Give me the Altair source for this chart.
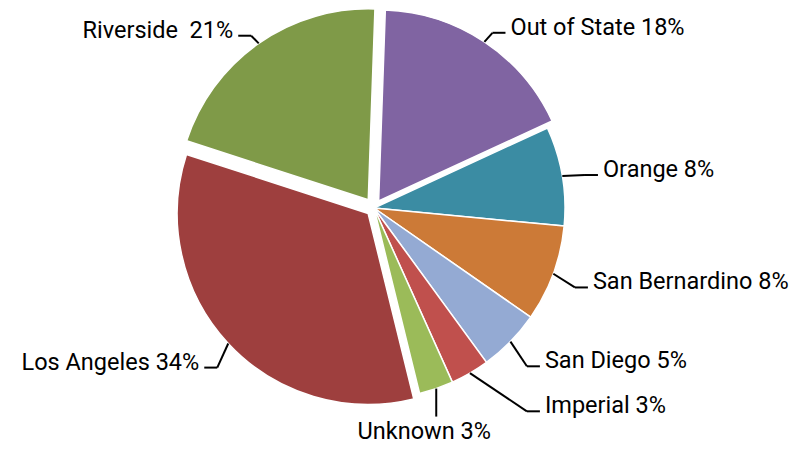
import math
import altair as alt
import pandas as pd

# ---- data ----
regions = ["Out of State", "Orange", "San Bernardino", "San Diego",
           "Imperial", "Unknown", "Los Angeles", "Riverside"]
shares = [17.6, 8.4, 8.2, 5.3, 3.3, 2.9, 33.9, 20.6]
labels = ["Out of State 18%", "Orange 8%", "San Bernardino 8%", "San Diego 5%",
          "Imperial 3%", "Unknown 3%", "Los Angeles 34%", "Riverside\u00a0 21%"]
colors = ["#8064A2", "#3B8CA3", "#CC7A37", "#94AAD3",
          "#C0504D", "#9BBB59", "#9E3F3E", "#7F9A48"]
explode = [8.4, 0, 0, 0, 0, 0, 8, 10]   # px, slice pull-out (style)

# ---- layout parameters ----
W, H = 788, 438
CX, CY = 366, 200
R = 191
ROT = math.radians(2)
ELBOW_RX, ELBOW_RY, ELBOW_DY = 214, 222, 3
TAIL = 13
GAP = 5
MIN_GAP = 45
BOTTOM_ZONE = math.radians(25)
FONT_SIZE = 23.5

total = sum(shares)
rows = []
cum = 0.0
for i, (name, s) in enumerate(zip(regions, shares)):
    a0 = ROT + cum / total * 2 * math.pi
    cum += s
    a1 = ROT + cum / total * 2 * math.pi
    mid = (a0 + a1) / 2
    sn, cs = math.sin(mid), -math.cos(mid)
    ox, oy = explode[i] * sn, explode[i] * cs
    ex, ey = CX + ox + R * sn, CY + oy + R * cs
    if abs(mid - math.pi) < BOTTOM_ZONE:
        side = "B"
        bx, by = ex, ey + 28
    else:
        side = "R" if sn > 0 else "L"
        bx = CX + ELBOW_RX * sn
        if cs > 0:
            by = CY + ELBOW_DY + oy + ELBOW_RY * cs
        else:
            by = CY + ELBOW_DY + ELBOW_RX * cs
    rows.append(dict(idx=i, region=name, share=s, label=labels[i], side=side,
                     ax=CX + ox, ay=CY + oy, ex=ex, ey=ey, bx=bx, by=by))

# simple collision avoidance per side
for sd in ("R", "L"):
    grp = sorted([r for r in rows if r["side"] == sd], key=lambda r: r["by"])
    for prev, cur in zip(grp, grp[1:]):
        if cur["by"] - prev["by"] < MIN_GAP:
            cur["by"] = prev["by"] + MIN_GAP
            cur["bx"] = max(cur["bx"], prev["bx"]) if sd == "R" else min(cur["bx"], prev["bx"])

for r in rows:
    if r["side"] == "R":
        r["tx2"] = r["bx"] + TAIL
        r["lx"], r["ly"] = r["tx2"] + GAP, r["by"] + 2
    elif r["side"] == "L":
        r["tx2"] = r["bx"] - TAIL
        r["lx"], r["ly"] = r["tx2"] - GAP, r["by"] + 2
    else:
        r["tx2"] = r["bx"]
        r["lx"], r["ly"] = r["bx"] - 12, r["by"] + 22

df = pd.DataFrame(rows)

base = alt.Chart(df)

arcs = base.mark_arc(radius=R, stroke="white", strokeWidth=1.5).encode(
    theta=alt.Theta("share:Q", stack=True,
                    scale=alt.Scale(domain=[0, total], range=[ROT, ROT + 2 * math.pi])),
    order=alt.Order("idx:Q"),
    color=alt.Color("region:N", scale=alt.Scale(domain=regions, range=colors), legend=None),
    x=alt.X("ax:Q", scale=None, axis=None),
    y=alt.Y("ay:Q", scale=None, axis=None),
)

diag = base.mark_rule(color="black", strokeWidth=2).encode(
    x=alt.X("ex:Q", scale=None, axis=None), y=alt.Y("ey:Q", scale=None, axis=None),
    x2="bx:Q", y2="by:Q",
)
tail = base.mark_rule(color="black", strokeWidth=2).encode(
    x=alt.X("bx:Q", scale=None, axis=None), y=alt.Y("by:Q", scale=None, axis=None),
    x2="tx2:Q", y2="by:Q",
)

def text_layer(side, align):
    return base.transform_filter(alt.datum.side == side).mark_text(
        font="Roboto", fontSize=FONT_SIZE, align=align, baseline="alphabetic", color="black"
    ).encode(
        x=alt.X("lx:Q", scale=None, axis=None),
        y=alt.Y("ly:Q", scale=None, axis=None),
        text="label:N",
    )

chart = alt.layer(
    arcs, diag, tail,
    text_layer("R", "left"), text_layer("L", "right"), text_layer("B", "center"),
).properties(
    width=W, height=H, padding=0,
    autosize=alt.AutoSizeParams(type="none"),
).configure_view(stroke=None)

chart.save("out.html", embed_options={"renderer": "svg", "actions": False})
